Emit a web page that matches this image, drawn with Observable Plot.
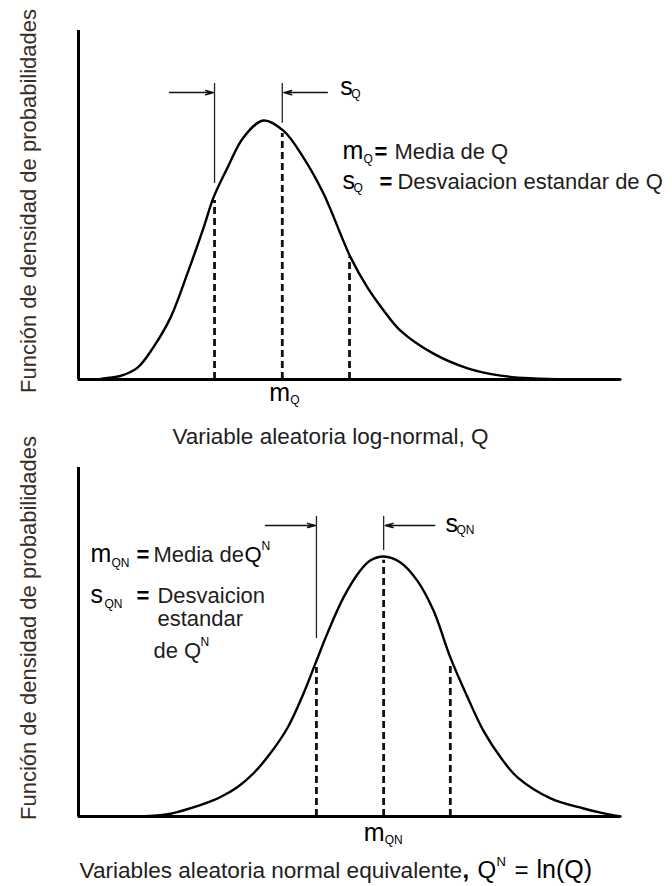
<!DOCTYPE html>
<html><head><meta charset="utf-8">
<script src="https://cdn.jsdelivr.net/npm/d3@7"></script>
<script src="https://cdn.jsdelivr.net/npm/@observablehq/plot@0.6"></script>
<style>
body{margin:0;background:#fff;}
#chart{width:672px;}
#chart svg{display:block;overflow:visible;}
</style></head><body><div id="chart"></div>
<script>
// ---- Data (x: 0–100 across the horizontal axis, y: 0–100 up to the top of the vertical axis) ----
// Top panel: log-normal density of Q
const lognormX = [0, 3.1, 4.6, 7.7, 10.9, 13.8, 17.0, 20.1, 23.1, 24.9, 27.5, 30.4, 34.1, 37.8, 41.5, 45.2, 50.2, 53.3, 56.3, 59.4, 65.5, 71.8, 77.9, 83.9, 90.2, 100];
const lognormY = [0, 0, 0.3, 1.0, 3.4, 9.2, 17.8, 30.4, 43.6, 52.1, 60.7, 69.3, 74.2, 71.3, 63.6, 53.3, 35.0, 26.4, 19.8, 14.0, 7.4, 3.2, 1.1, 0.3, 0, 0];
const lognormMarks = [25.1, 37.6, 50.0];      // m−s, m, m+s
const lognormMarkTops = [51.3, 70.5, 35.0];
const lognormGuideBottoms = [56.2, 73.4];
// Bottom panel: equivalent normal density of Q^N = ln(Q)
const normalX = [0, 11.4, 17.0, 18.8, 23.1, 26.2, 29.3, 32.3, 35.4, 38.6, 41.5, 43.7, 45.9, 48.9, 52.0, 53.9, 56.3, 59.4, 62.5, 65.5, 68.6, 71.8, 74.7, 77.9, 81.0, 87.1, 93.2, 96.3, 100];
const normalY = [0, 0, 0.8, 1.5, 3.6, 5.6, 8.4, 12.4, 18.1, 25.5, 35.2, 43.8, 52.4, 62.8, 70.5, 73.4, 74.5, 72.8, 67.6, 59.0, 45.6, 34.1, 24.6, 16.9, 11.2, 5.2, 2.3, 1.1, 0];
const normalMarks = [43.9, 56.3, 68.6];
const normalMarkTops = [42.7, 73.4, 44.1];
const normalGuideBottoms = [51.0, 76.2];

// ---- Text ----
const yLabel = "Función de densidad de probabilidades";
const topTitle = "Variable aleatoria log-normal, Q";
const bottomTitle = "Variables aleatoria normal equivalente";
const topLegend = ["Media de Q", "Desvaiacion estandar de Q"];
const bottomLegend = ["Media de", "Desvaicion", "estandar", "de Q"];

const FONT = "'Liberation Sans', Arial, Helvetica, sans-serif";
const TEXT = "#1e1e1e";

function txt(s, o = {}) {
  return Plot.text([s], {text: d => d, textAnchor: "start", lineAnchor: "bottom", fontSize: 22, fill: TEXT, fontFamily: FONT, ...o});
}

function panel(cfg) {
  const curve = cfg.xs.map((x, i) => ({x, y: cfg.ys[i]}));
  const dashes = cfg.marks.map((x, i) => ({x, top: cfg.markTops[i]}));
  const guides = [0, 1].map(i => ({x: cfg.marks[i], y1: cfg.guideBottoms[i], y2: cfg.guideTop}));
  const arrows = [
    {x1: cfg.marks[0] - cfg.arrowLen, x2: cfg.marks[0] - 0.2},
    {x1: cfg.marks[1] + cfg.arrowLen, x2: cfg.marks[1] + 0.3}
  ];
  return Plot.plot({
    width: 672, height: cfg.height,
    marginLeft: 78, marginRight: 52, marginTop: cfg.marginTop, marginBottom: cfg.marginBottom,
    x: {domain: [0, 100], axis: null},
    y: {domain: [0, 100], axis: null},
    style: {fontFamily: FONT, overflow: "visible", background: "white"},
    marks: [
      Plot.ruleX(dashes, {x: "x", y1: 0, y2: "top", stroke: "#111", strokeWidth: 2.8, strokeDasharray: "7,4"}),
      Plot.ruleX(guides, {x: "x", y1: "y1", y2: "y2", stroke: "#222", strokeWidth: 1.3}),
      Plot.arrow(arrows, {x1: "x1", x2: "x2", y1: cfg.arrowY, y2: cfg.arrowY, stroke: "#111", strokeWidth: 1.5, headLength: 8, headAngle: 30}),
      Plot.line(curve, {x: "x", y: "y", curve: "catmull-rom", stroke: "#000", strokeWidth: 2.4}),
      Plot.ruleY([0], {x1: 0, x2: 100, stroke: "#000", strokeWidth: 3}),
      Plot.ruleX([0], {y1: 0, y2: 100, stroke: "#000", strokeWidth: 3}),
      Plot.text([yLabel], {text: d => d, frameAnchor: "left", rotate: -90, dx: -50, dy: cfg.yLabelDy, fontSize: 22, fill: "#3a2d22", fontFamily: FONT, textAnchor: "middle", lineAnchor: "middle"}),
      ...cfg.extra
    ]
  });
}

const SYM = 25, SUB = 12;

const topPanel = panel({
  xs: lognormX, ys: lognormY, marks: lognormMarks, markTops: lognormMarkTops,
  guideBottoms: lognormGuideBottoms, guideTop: 84.8, arrowY: 82.2, arrowLen: 8.3,
  height: 450, marginTop: 30, marginBottom: 71, yLabelDy: -4,
  extra: [
    txt("s", {x: 48.3, y: 81.4, fontSize: SYM, fill: "#000"}),
    txt("Q", {x: 48.3, y: 81.4, dx: 11, dy: 3, fontSize: SUB, fill: "#000"}),
    txt("m", {x: 48.7, y: 63.3, fontSize: SYM, fill: "#000"}),
    txt("Q", {x: 48.7, y: 63.3, dx: 21, dy: 4, fontSize: SUB, fill: "#000"}),
    txt("=", {x: 48.7, y: 63.3, dx: 32, fontWeight: "bold", fill: "#000"}),
    txt(topLegend[0], {x: 48.7, y: 63.3, dx: 52}),
    txt("s", {x: 48.7, y: 54.7, fontSize: SYM, fill: "#000"}),
    txt("Q", {x: 48.7, y: 54.7, dx: 11, dy: 3, fontSize: SUB, fill: "#000"}),
    txt("=", {x: 48.7, y: 54.7, dx: 37, fontWeight: "bold", fill: "#000"}),
    txt(topLegend[1], {x: 48.7, y: 54.7, dx: 55}),
    txt("m", {x: lognormMarks[1], y: 0, dx: -13, dy: 21, fontSize: SYM, fill: "#000"}),
    txt("Q", {x: lognormMarks[1], y: 0, dx: 8, dy: 24, fontSize: SUB, fill: "#000"}),
    Plot.text([topTitle], {text: d => d, frameAnchor: "bottom", dx: -19, dy: 64, lineAnchor: "bottom", fontSize: 22.5, fill: TEXT, fontFamily: FONT})
  ]
});

const bottomPanel = panel({
  xs: normalX, ys: normalY, marks: normalMarks, markTops: normalMarkTops,
  guideBottoms: normalGuideBottoms, guideTop: 86.0, arrowY: 83.4, arrowLen: 9.4,
  height: 436, marginTop: 17, marginBottom: 70, yLabelDy: -14,
  extra: [
    txt("s", {x: 67.7, y: 81.4, fontSize: SYM, fill: "#000"}),
    txt("QN", {x: 67.7, y: 81.4, dx: 11, dy: 2, fontSize: SUB, fill: "#000"}),
    txt("m", {x: 2.2, y: 72.8, fontSize: SYM, fill: "#000"}),
    txt("QN", {x: 2.2, y: 72.8, dx: 21, dy: 5, fontSize: SUB, fill: "#000"}),
    txt("=", {x: 2.2, y: 72.8, dx: 46, fontWeight: "bold", fill: "#000"}),
    txt(bottomLegend[0], {x: 2.2, y: 72.8, dx: 63}),
    txt("Q", {x: 2.2, y: 72.8, dx: 154, fill: "#000"}),
    txt("N", {x: 2.2, y: 72.8, dx: 171, dy: -12, fontSize: SUB, fill: "#000"}),
    txt("s", {x: 2.2, y: 61.3, fontSize: SYM, fill: "#000"}),
    txt("QN", {x: 2.2, y: 61.3, dx: 14, dy: 5, fontSize: SUB, fill: "#000"}),
    txt("=", {x: 2.2, y: 61.3, dx: 46, fontWeight: "bold", fill: "#000"}),
    txt(bottomLegend[1], {x: 2.2, y: 61.3, dx: 67}),
    txt(bottomLegend[2], {x: 2.2, y: 54.7, dx: 67}),
    txt(bottomLegend[3], {x: 2.2, y: 45.3, dx: 63}),
    txt("N", {x: 2.2, y: 45.3, dx: 110, dy: -12, fontSize: SUB, fill: "#000"}),
    txt("m", {x: normalMarks[1], y: 0, dx: -20, dy: 24, fontSize: SYM, fill: "#000"}),
    txt("QN", {x: normalMarks[1], y: 0, dx: 1, dy: 27, fontSize: SUB, fill: "#000"}),
    txt(bottomTitle, {frameAnchor: "bottom-left", dx: 1, dy: 61, fontSize: 22.6}),
    txt(",", {frameAnchor: "bottom-left", dx: 384, dy: 61, fontSize: 24, fontWeight: "bold", fill: "#000"}),
    txt("Q", {frameAnchor: "bottom-left", dx: 399, dy: 61, fontSize: 24, fill: "#000"}),
    txt("N", {frameAnchor: "bottom-left", dx: 418, dy: 49, fontSize: 13, fill: "#000"}),
    txt("=", {frameAnchor: "bottom-left", dx: 436, dy: 61, fontSize: 24, fill: "#000"}),
    txt("ln(Q)", {frameAnchor: "bottom-left", dx: 458, dy: 61, fontSize: 25, fill: "#000"})
  ]
});

document.getElementById("chart").append(topPanel, bottomPanel);
</script>
</body></html>
